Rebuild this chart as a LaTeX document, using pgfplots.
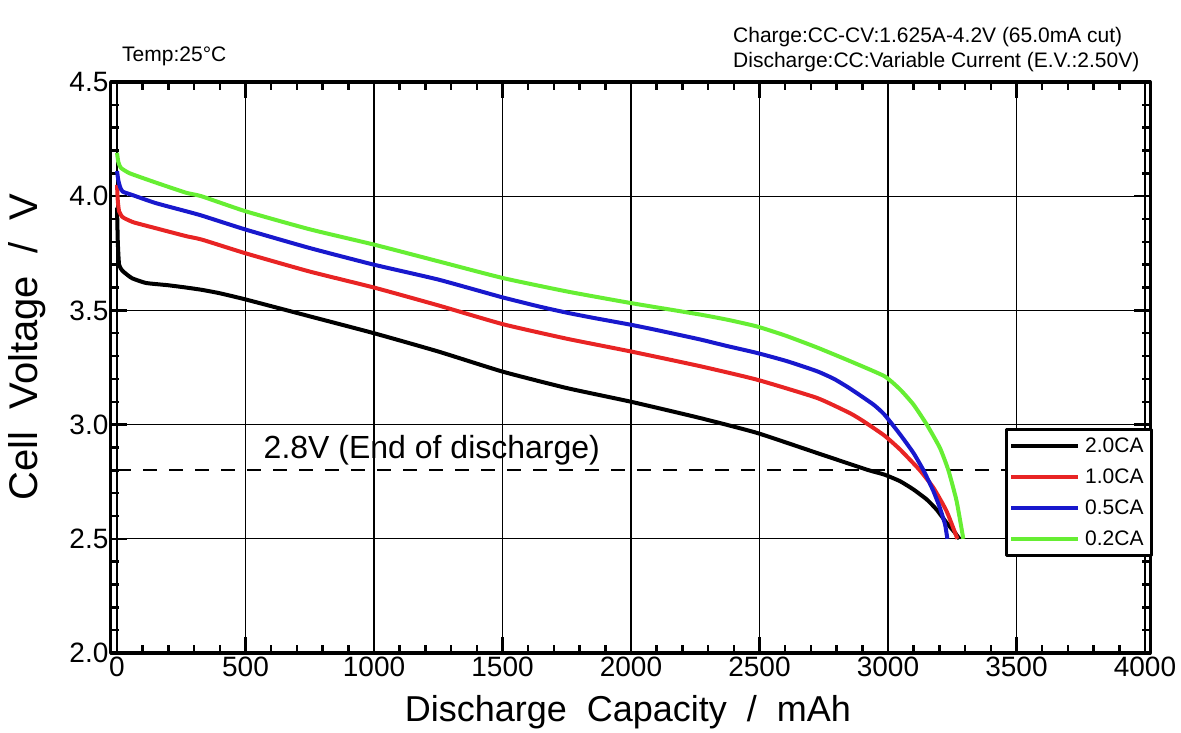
\documentclass[border=0pt]{standalone}
\usepackage{fontspec}
\setmainfont{Liberation Sans}
\usepackage{pgfplots}
\pgfplotsset{compat=1.18}
\definecolor{cRed}{RGB}{232,36,36}
\definecolor{cBlue}{RGB}{24,24,205}
\definecolor{cGreen}{RGB}{102,238,51}
\begin{document}
\begin{tikzpicture}
\useasboundingbox (0,0) rectangle (1181pt,733pt);
\begin{axis}[
  at={(110.6pt,80pt)}, anchor=south west,
  scale only axis, width=1039.5pt, height=571pt,
  xmin=-25, xmax=4020, ymin=2, ymax=4.5,
  xtick={0,500,...,4000}, ytick={2,2.5,...,4.5},
  minor x tick num=4, minor y tick num=4,
  grid=major, major grid style={black, line width=1.2pt},
  axis line style={line width=3.2pt},
  major tick length=16pt, minor tick length=8pt,
  tick style={black, line width=2.5pt},
  tick align=inside,
  /pgf/number format/assume math mode=true,
  xticklabel style={font=\fontsize{28}{30}\selectfont, /pgf/number format/1000 sep={}},
  yticklabel style={font=\fontsize{28}{30}\selectfont, inner xsep=2pt, /pgf/number format/fixed, /pgf/number format/fixed zerofill, /pgf/number format/precision=1},
  xlabel={Discharge~~Capacity~~/~~mAh},
  xlabel style={font=\fontsize{36}{40}\selectfont, at={(axis description cs:0.4977,-0.1208)}, anchor=base},
  ylabel={Cell~~Voltage~~/~~V},
  ylabel style={font=\fontsize{40}{44}\selectfont, at={(axis description cs:-0.0804,0.536)}, anchor=center},
  legend style={at={(1.0028,0.394)}, anchor=north east, draw=black, line width=3pt,
    font=\fontsize{21}{24}\selectfont, inner xsep=3pt, inner ysep=6pt, row sep=11pt,
    nodes={inner xsep=5pt, inner ysep=2pt}, cells={anchor=west}},
  legend image code/.code={\draw[#1] (0pt,0pt) -- (67pt,0pt);},
  line join=round,
]
\addplot[black, line width=2pt, dash pattern=on 14pt off 12pt, forget plot] coordinates {(0,2.8) (4000,2.8)};
\addplot[black, line width=4pt, smooth, tension=0.3] coordinates {
(0,3.95) (3,3.80) (8,3.70) (20,3.675) (35,3.66) (60,3.64) (113,3.62) (200,3.61) (269,3.60) (330,3.59) (400,3.575) (500,3.548) (750,3.474) (1000,3.40) (1250,3.32) (1500,3.232) (1750,3.16) (2000,3.10) (2268,3.029) (2489,2.964) (2723,2.876) (2917,2.803) (2986,2.781) (3047,2.752) (3099,2.716) (3151,2.672) (3189,2.628) (3228,2.570) (3258,2.53) (3278,2.50)};
\addlegendentry{2.0CA}
\addplot[cRed, line width=4pt, smooth, tension=0.3] coordinates {
(0,4.05) (3,3.98) (8,3.934) (20,3.91) (35,3.90) (66,3.885) (150,3.86) (269,3.825) (330,3.81) (500,3.75) (750,3.67) (1000,3.60) (1250,3.522) (1500,3.44) (1750,3.376) (2000,3.32) (2268,3.256) (2489,3.197) (2723,3.117) (2852,3.05) (2904,3.015) (2986,2.952) (3047,2.891) (3124,2.80) (3177,2.723) (3228,2.621) (3270,2.50)};
\addlegendentry{1.0CA}
\addplot[cBlue, line width=4pt, smooth, tension=0.3] coordinates {
(0,4.11) (5,4.07) (12,4.04) (22,4.02) (60,4.005) (150,3.97) (269,3.934) (330,3.915) (500,3.854) (750,3.773) (1000,3.70) (1250,3.635) (1500,3.557) (1650,3.515) (1750,3.49) (1850,3.468) (2000,3.437) (2100,3.414) (2268,3.373) (2370,3.345) (2489,3.314) (2606,3.278) (2723,3.234) (2790,3.200) (2852,3.158) (2943,3.088) (2986,3.044) (3047,2.957) (3099,2.876) (3138,2.80) (3177,2.708) (3202,2.635) (3222,2.563) (3231,2.50)};
\addlegendentry{0.5CA}
\addplot[cGreen, line width=4pt, smooth, tension=0.3] coordinates {
(0,4.19) (5,4.15) (15,4.124) (50,4.10) (150,4.06) (269,4.015) (328,4.0) (500,3.934) (750,3.855) (1000,3.788) (1250,3.715) (1500,3.642) (1750,3.583) (2000,3.532) (2268,3.482) (2380,3.458) (2489,3.430) (2600,3.39) (2723,3.338) (2852,3.278) (2986,3.212) (3047,3.154) (3099,3.088) (3151,3.0) (3202,2.898) (3235,2.80) (3267,2.665) (3293,2.50)};
\addlegendentry{0.2CA}
\node[anchor=base west, inner sep=0pt, font=\fontsize{32}{36}\selectfont, yshift=12pt] at (axis cs:570,2.8) {2.8V (End of discharge)};
\end{axis}
\node[anchor=base west, inner sep=0pt, font=\fontsize{21}{24}\selectfont] at (122pt,671pt) {Temp:25°C};
\node[anchor=base west, inner sep=0pt, font=\fontsize{21}{24}\selectfont] at (733pt,690pt) {Charge:CC-CV:1.625A-4.2V (65.0mA cut)};
\node[anchor=base west, inner sep=0pt, font=\fontsize{21}{24}\selectfont] at (733pt,665pt) {Discharge:CC:Variable Current (E.V.:2.50V)};
\end{tikzpicture}
\end{document}
